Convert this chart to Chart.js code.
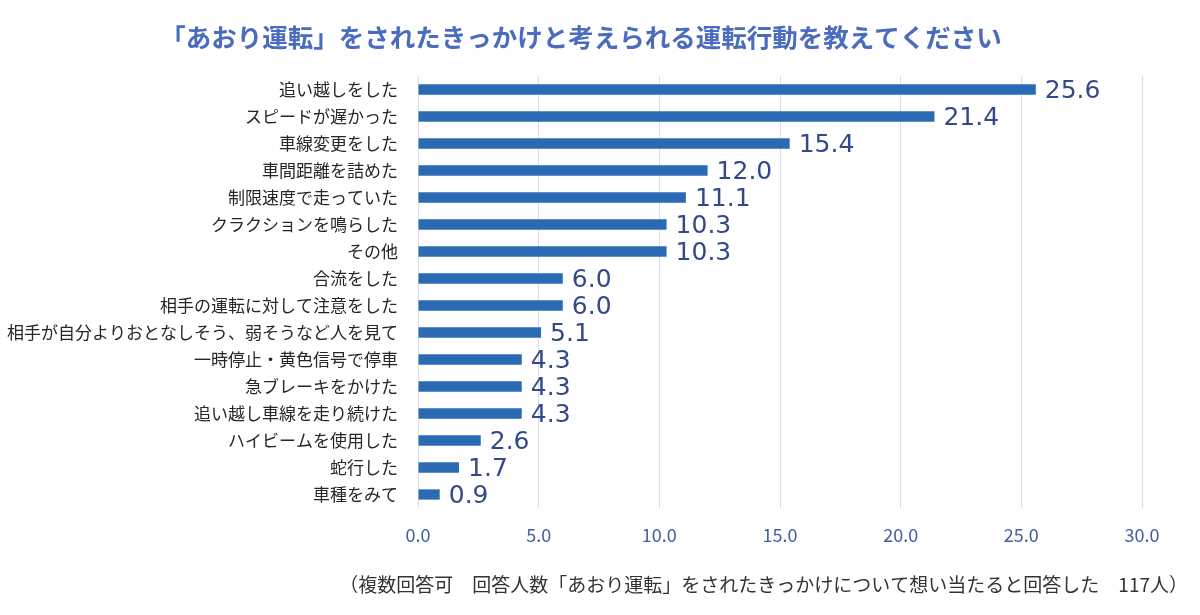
<!DOCTYPE html>
<html>
<head>
<meta charset="utf-8">
<script src="https://cdn.jsdelivr.net/npm/chart.js@4/dist/chart.umd.min.js"></script>
<style>
html,body{margin:0;padding:0;background:#fff;}
#wrap{width:1200px;height:615px;position:relative;}
</style>
</head>
<body>
<div id="wrap"><canvas id="c" width="1200" height="615"></canvas></div>
<script>
const titleText = "「あおり運転」をされたきっかけと考えられる運転行動を教えてください";
const noteText = "（複数回答可　回答人数「あおり運転」をされたきっかけについて想い当たると回答した　117人）";
const categories = [
  "追い越しをした",
  "スピードが遅かった",
  "車線変更をした",
  "車間距離を詰めた",
  "制限速度で走っていた",
  "クラクションを鳴らした",
  "その他",
  "合流をした",
  "相手の運転に対して注意をした",
  "相手が自分よりおとなしそう、弱そうなど人を見て",
  "一時停止・黄色信号で停車",
  "急ブレーキをかけた",
  "追い越し車線を走り続けた",
  "ハイビームを使用した",
  "蛇行した",
  "車種をみて"
];
const values = [25.6, 21.4, 15.4, 12.0, 11.1, 10.3, 10.3, 6.0, 6.0, 5.1, 4.3, 4.3, 4.3, 2.6, 1.7, 0.9];
const axisMin = 0, axisMax = 30, axisStep = 5;

const JP = "'Noto Sans CJK JP', 'Noto Sans', sans-serif";

const textPlugin = {
  id: 'texts',
  afterDraw(chart) {
    const ctx = chart.ctx;
    ctx.save();
    // title
    ctx.font = "bold 25.5px " + JP;
    ctx.fillStyle = "#4A6BBE";
    ctx.textAlign = "center";
    ctx.textBaseline = "middle";
    ctx.fillText(titleText, 581, 37);
    // footnote
    ctx.font = "19px " + JP;
    ctx.fillStyle = "#333333";
    ctx.textAlign = "right";
    ctx.fillText(noteText, 1188, 585);
    // value labels
    const meta = chart.getDatasetMeta(0);
    ctx.font = "25px 'DejaVu Sans', sans-serif";
    ctx.fillStyle = "#34498A";
    ctx.textAlign = "left";
    ctx.textBaseline = "middle";
    meta.data.forEach((bar, i) => {
      ctx.fillText(values[i].toFixed(1), bar.x + 9, bar.y + 2);
    });
    ctx.restore();
  }
};

new Chart(document.getElementById('c'), {
  type: 'bar',
  data: {
    labels: categories,
    datasets: [{
      data: values,
      backgroundColor: "#2B6BB3",
      borderWidth: 0,
      barPercentage: 0.38,
      categoryPercentage: 1.0
    }]
  },
  options: {
    indexAxis: 'y',
    responsive: false,
    animation: false,
    layout: { padding: { top: 76, bottom: 0, left: 0, right: 58 } },
    plugins: {
      legend: { display: false },
      tooltip: { enabled: false },
      title: { display: false }
    },
    scales: {
      x: {
        min: axisMin, max: axisMax,
        ticks: {
          stepSize: axisStep,
          padding: 16,
          color: "#44609C",
          font: { family: JP, size: 18 },
          callback: v => Number(v).toFixed(1)
        },
        grid: { color: "#D9DEE6", drawTicks: false, lineWidth: 1 },
        border: { display: false },
        afterFit(scale) { scale.height = 107; }
      },
      y: {
        ticks: {
          padding: 20,
          color: "#262626",
          font: { family: JP, size: 17 },
          autoSkip: false
        },
        grid: { display: false, drawTicks: false },
        border: { display: false },
        afterFit(scale) { scale.width = 418; }
      }
    }
  },
  plugins: [textPlugin]
});
</script>
</body>
</html>
